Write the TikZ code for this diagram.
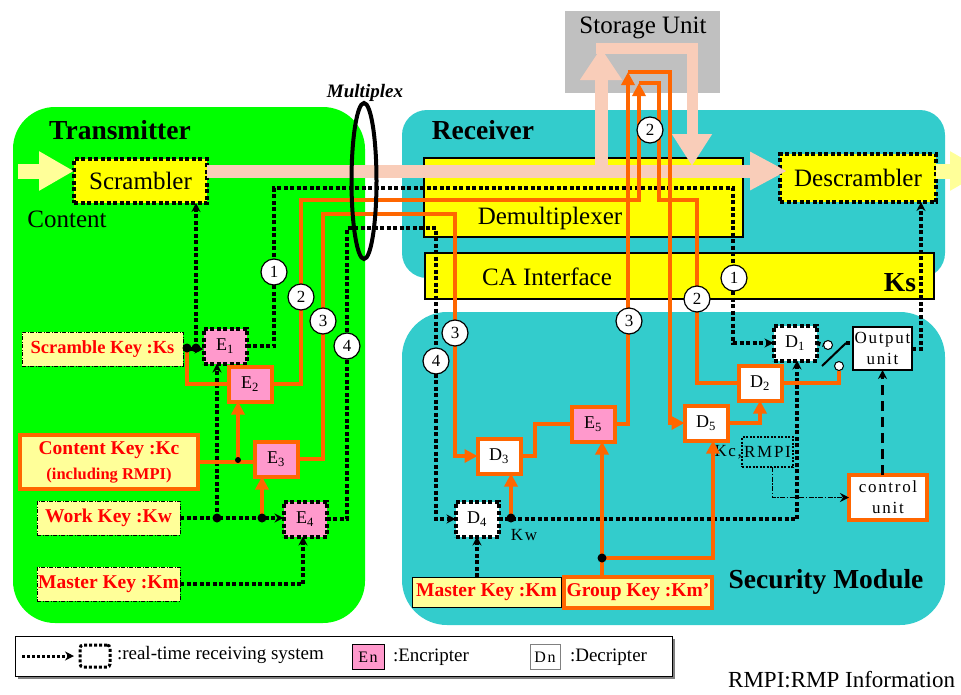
\documentclass[tikz,border=0pt]{standalone}
\usepackage{amsmath,amssymb}
\usepackage{fontspec}
\setmainfont{Liberation Serif}
\newfontfamily\mincho[LetterSpace=10]{Liberation Serif}
\usepackage{tikz}
\usetikzlibrary{arrows.meta,shadows}

\definecolor{txgreen}{HTML}{00FF00}
\definecolor{rxcyan}{HTML}{33CCCC}
\definecolor{boxyellow}{HTML}{FFFF00}
\definecolor{keyyellow}{HTML}{FFFF99}
\definecolor{encpink}{HTML}{FF99CC}
\definecolor{keyorange}{HTML}{FF6600}
\definecolor{storegray}{HTML}{C0C0C0}
\definecolor{streampink}{HTML}{F9CDB9}
\definecolor{keyred}{HTML}{FF0000}
\newcommand{\fsz}[2]{\fontsize{#1}{#2}\selectfont}

\begin{document}
\begin{tikzpicture}[x=1pt,y=-1pt,
		every node/.style={inner sep=0pt,outer sep=0pt},
		lab/.style={font=\fsz{25}{30}},
		head/.style={font=\bfseries\fsz{27.5}{32}},
		dotline/.style={line width=4pt,dash pattern=on 4pt off 2.5pt},
		oline/.style={draw=keyorange,line width=4pt},
		ctrlline/.style={line width=1.5pt,dash pattern=on 5pt off 1.5pt on 1.5pt off 1.5pt},
		dashline/.style={line width=3.5pt,dash pattern=on 10pt off 6pt},
		dtip/.style={-{Stealth[length=9pt,width=9pt]}},
		otip/.style={-{Triangle[length=13pt,width=13pt]}},
		rtbox/.style={draw=black,dotline},
		blk/.style={minimum width=43pt,minimum height=35pt,font=\mincho\fsz{18}{20}},
		enc/.style={blk,fill=encpink,draw=keyorange,line width=4pt},
		encrt/.style={blk,fill=encpink,rtbox},
		dec/.style={blk,fill=white,draw=keyorange,line width=4pt},
		decrt/.style={blk,fill=white,rtbox},
		key/.style={fill=keyyellow,draw=black,line width=1pt,dash pattern=on 4pt off 1.5pt on 1pt off 1.5pt,text=keyred,font=\bfseries\fsz{19.5}{22},minimum height=34pt},
		okey/.style={key,solid,draw=keyorange,line width=4.5pt},
		num/.style={circle,draw=black,fill=white,line width=1.2pt,minimum size=26pt,font=\fsz{17}{17}},
		jn/.style={circle,fill=black,minimum size=9pt},
		sw/.style={circle,draw=black,fill=white,line width=1pt,minimum size=9pt},
		fat/.style={draw=keyyellow,line width=15pt,-{Triangle[length=35pt,width=37pt]}},
		stream/.style={draw=streampink,line width=13pt},
	]
	\useasboundingbox (0,0) rectangle (961,694);
	\clip (0,0) rectangle (961,694);
	\fill[txgreen,rounded corners=42pt] (13,107) rectangle (365,623);
	\fill[rxcyan,rounded corners=25pt] (402,110) rectangle (945,278);
	\fill[rxcyan,rounded corners=45pt] (402,312) rectangle (945,625);
	\node[head] (txlbl) at (120,130) {Transmitter};
	\node[head] (rxlbl) at (483,130) {Receiver};
	\node[head] (smlbl) at (826,582) {Security Module};
	\node[font=\bfseries\itshape\fsz{19}{22}] (muxlbl) at (365,93) {Multiplex};

	\node[fill=storegray,minimum width=155pt,minimum height=82pt] (stor) at (642.5,52) {};
	\node[lab] (storlbl) at (643,28) {Storage Unit};
	\node[fill=boxyellow,draw=black,line width=1.5pt,minimum width=319pt,minimum height=79pt] (demux) at (583.5,197.5) {};
	\node[lab] (demuxlbl) at (550,218) {Demultiplexer};
	\node[fill=boxyellow,draw=black,line width=1.5pt,minimum width=509pt,minimum height=46pt] (ca) at (679.5,276) {};
	\node[lab] (calbl) at (547,277) {CA Interface};
	\node[head] (kslbl) at (900,283) {Ks};

	\node[fill=boxyellow,rtbox,minimum width=133pt,minimum height=44pt,lab] (scr) at (140.5,181) {Scrambler};
	\node[fill=boxyellow,rtbox,minimum width=156pt,minimum height=48pt,lab] (desc) at (858,178) {Descrambler};
	\node[lab] (content) at (67,219) {Content};
	\coordinate (cin) at (18,171);
	\coordinate (cout) at (985,171);
	\draw[fat] (cin) -- ([yshift=10pt]scr.west);
	\draw[fat] ([yshift=7pt]desc.east) -- (cout);
	\draw[stream,-{Triangle[length=37pt,width=36pt]}] ([yshift=10pt]scr.east) -- ([shift={(7pt,7pt)}]desc.west);
	\draw[stream,-{Triangle[length=32pt,width=40pt]}] (601,165) -- (601,48);
	\draw[stream,line width=11pt,line join=miter,-{Triangle[length=32pt,width=38pt]}] (596,48) -- (692,48) -- (692,166);

	\node[key,minimum width=161pt,font=\bfseries\fsz{18.5}{22}] (ks) at (102.5,349) {Scramble Key :Ks};
	\node[okey,minimum width=178pt,minimum height=54pt,align=center] (kc) at (109,462) {Content Key :Kc\\[3pt]{\fsz{16.5}{18}(including RMPI)}};
	\node[key,minimum width=143pt] (kw) at (108.5,518) {Work Key :Kw};
	\node[key,minimum width=143pt] (km) at (108.5,584) {Master Key :Km};
	\node[key,solid,minimum width=149pt,minimum height=30pt] (kmr) at (486.5,592) {Master Key :Km};
	\node[okey,minimum width=148pt,minimum height=31pt] (kg) at (638,592.5) {Group Key :Km’};

	\node[encrt] (e1) at (225,346) {E\textsubscript{1}};
	\node[enc] (e2) at (250,384) {E\textsubscript{2}};
	\node[enc] (e3) at (276,459) {E\textsubscript{3}};
	\node[encrt] (e4) at (305,519) {E\textsubscript{4}};
	\node[enc] (e5) at (593,424) {E\textsubscript{5}};
	\node[decrt] (d1) at (795,343) {D\textsubscript{1}};
	\node[dec] (d2) at (760,383) {D\textsubscript{2}};
	\node[dec] (d3) at (499,456) {D\textsubscript{3}};
	\node[decrt] (d4) at (477,519) {D\textsubscript{4}};
	\node[dec] (d5) at (706,423) {D\textsubscript{5}};
	\node[font=\mincho\fsz{17}{17}] (kwlbl) at (524,535) {Kw};
	\node[draw=black,fill=white,line width=1.2pt,minimum width=59pt,minimum height=43pt,align=center,font=\mincho\fsz{17}{21}] (outu) at (882.5,348.5) {Output\\unit};
	\node[dec,minimum width=78pt,minimum height=45pt,align=center,font=\mincho\fsz{17}{21}] (ctrl) at (888,497.5) {control\\unit};
	\node[draw=black,line width=1.5pt,dash pattern=on 2pt off 1.5pt,minimum width=51pt,minimum height=30pt,font=\mincho\fsz{17}{17}] (kcr) at (767.5,452) {RMPI};
	\node[anchor=east,font=\mincho\fsz{17}{17}] (kclbl) at (kcr.west) {Kc,};
	\node[sw] (sw1) at (828,345) {};
	\node[sw] (sw2) at (839,366) {};
	\coordinate (swtop) at (846,343);

	\coordinate (jks1) at (187,348);
	\coordinate (jks2) at (196,348);
	\coordinate (jkc) at (238,460);
	\coordinate (jkw1) at (217,518);
	\coordinate (jkw2) at (262,518);
	\coordinate (jd4) at (511,518);
	\coordinate (jkg) at (602,558);

	\draw[dotline,dtip] (ks.east) -- (ks.east -| e1.west);
	\draw[dotline,dtip] (jks2) -- (jks2 |- scr.south);
	\draw[dotline,dtip] (e1.east) -| (274,188) -- (733,188) |- (d1.west);
	\draw[dotline,dtip] (kw.east) -- (kw.east -| e4.west);
	\draw[dotline,dtip] (jkw1) -- (jkw1 |- e1.south);
	\draw[dotline,dtip] (km.east) -| ([xshift=-2pt]e4.south);
	\draw[dotline,dtip] (e4.east) -| (347,228) -- (436,228) |- (d4.west);
	\draw[dotline,dtip] (d4.east) -| ([xshift=2pt]d1.south);
	\draw[dotline,dtip] (kmr.north -| d4.south) -- (d4.south);
	\draw[dotline] (d1.east) -- (sw1.west);
	\draw[line width=2pt] (swtop) -- ++(-24,23);
	\draw[dotline] (swtop) -- (swtop -| outu.west);
	\draw[dotline,dtip] (outu.east) -| ([xshift=63pt]desc.south);
	\draw[ctrlline,dtip] ([xshift=5pt]kcr.south) |- (ctrl.west);
	\draw[dashline,dtip] (outu.south |- ctrl.north) -- (outu.south);

	\draw[oline] (jks1) |- (e2.west);
	\draw[oline] (kc.east) -- (kc.east -| e3.west);
	\draw[oline,otip] (jkc) -- (jkc |- e2.south);
	\draw[oline,otip] (jkw2) -- (jkw2 |- e3.south);
	\draw[oline,otip] (e2.east) -| (301,200) -| (639,83);
	\draw[oline] (639,83) -- (659,83) -- (659,200) -- (697,200) |- (d2.west);
	\draw[oline,otip] (e3.east) -| (323,214) -- (455,214) |- (d3.west);
	\draw[oline] (d3.east) -- ++(14,0) |- (e5.west);
	\draw[oline,otip] (e5.east) -| (628,72);
	\draw[oline,otip] (628,72) -- (670,72) |- (d5.west);
	\draw[oline,otip] (jd4) -- (jd4 |- d3.south);
	\draw[oline,otip] (kg.north -| jkg) -- (jkg |- e5.south);
	\draw[oline,otip] (jkg) -| ([xshift=7pt]d5.south);
	\draw[oline,otip] (d5.east) -| (d2.south);
	\draw[oline] (d2.east) -| (sw2.south);

	\foreach \j in {jks1,jks2,jkw1,jkw2,jd4,jkg}
		\node[jn] at (\j) {};
	\node[jn,minimum size=6pt] at (jkc) {};

	\node[num] (c1a) at (274,272) {1};
	\node[num] (c2a) at (301,297) {2};
	\node[num] (c3a) at (323,321) {3};
	\node[num] (c4a) at (347,346) {4};
	\node[num] (c1b) at (734,278) {1};
	\node[num] (c2b) at (697,299) {2};
	\node[num] (c2s) at (650,130) {2};
	\node[num] (c3b) at (455,333) {3};
	\node[num] (c3c) at (629,321) {3};
	\node[num] (c4b) at (436,361) {4};

	\draw[line width=4pt] (364,181) ellipse [x radius=12.5pt,y radius=78pt];

	\node[draw=black,fill=white,line width=1pt,minimum width=657pt,minimum height=40pt,drop shadow={shadow xshift=3pt,shadow yshift=-3pt,fill=gray,opacity=1}] (leg) at (343.5,656) {};
	\node[draw=black,line width=3pt,dash pattern=on 3pt off 2pt,rounded corners=3pt,minimum width=30pt,minimum height=22pt] (legrt) at (95,656) {};
	\coordinate (legin) at (22,656);
	\draw[line width=3pt,dash pattern=on 3pt off 2pt,dtip] (legin) -- ([xshift=-6pt]legrt.west);
	\node[anchor=west,font=\fsz{19}{22}] (legrtlbl) at (117,655) {:real-time receiving system};
	\node[draw=black,fill=encpink,line width=1pt,minimum width=32pt,minimum height=25pt,font=\mincho\fsz{16}{16}] (legen) at (368,657) {En};
	\node[anchor=west,font=\fsz{19}{22}] (legenlbl) at (393,657) {:Encripter};
	\node[draw=gray,fill=white,line width=1pt,minimum width=30pt,minimum height=25pt,font=\mincho\fsz{16}{16}] (legdn) at (545,657) {Dn};
	\node[anchor=west,font=\fsz{19}{22}] (legdnlbl) at (570,657) {:Decripter};
	\node[anchor=east,font=\fsz{23}{25}] (rmpi) at (955,680) {RMPI:RMP Information};
\end{tikzpicture}
\end{document}
